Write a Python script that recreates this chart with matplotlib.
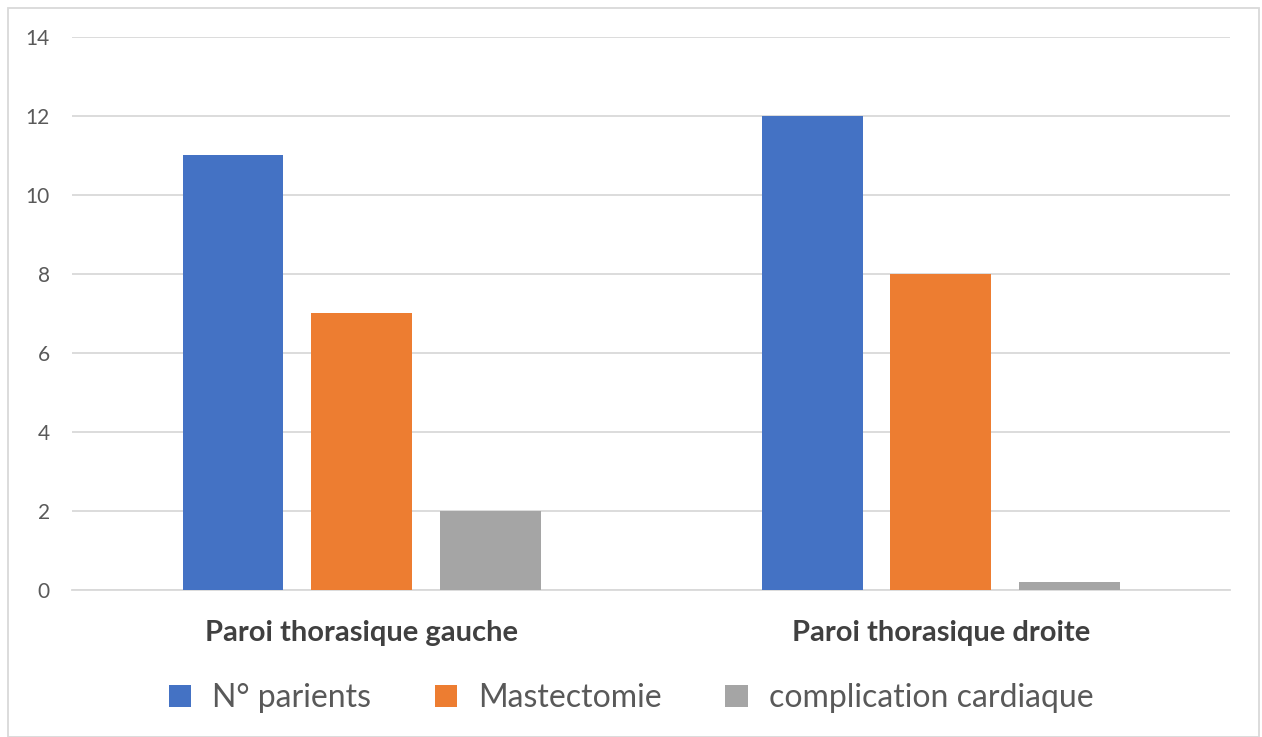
import matplotlib.pyplot as plt
import numpy as np
from matplotlib.patches import Rectangle

categories = ['Paroi thorasique gauche', 'Paroi thorasique droite']
series_names = ['N° parients', 'Mastectomie', 'complication cardiaque']
n_patients = [11, 12]
mastectomie = [7, 8]
complication = [2, 0.2]
colors = ['#4472C4', '#ED7D31', '#A5A5A5']

plt.rcParams['font.family'] = ['Lato', 'DejaVu Sans']

fig = plt.figure(figsize=(12.62, 7.37), dpi=100)
ax = fig.add_axes([0.057, 0.2, 0.918, 0.75])

x = np.arange(len(categories))
width = 0.174
step = 0.222
for i, (vals, name) in enumerate(zip([n_patients, mastectomie, complication], series_names)):
    ax.bar(x + (i - 1) * step, vals, width, color=colors[i], label=name, zorder=3)

ax.set_xlim(-0.5, 1.5)
ax.set_ylim(0, 14)
ax.set_yticks(range(0, 15, 2))
ax.grid(axis='y', color='#D9D9D9', linewidth=1.3, zorder=0)
for s in ['top', 'right', 'left']:
    ax.spines[s].set_visible(False)
ax.spines['bottom'].set_color('#D9D9D9')
ax.spines['bottom'].set_linewidth(1.3)
ax.tick_params(axis='y', length=0, labelsize=15, labelcolor='#595959', pad=16)
ax.tick_params(axis='x', length=0, labelsize=21, labelcolor='#404040', pad=22)
ax.set_xticks(x)
ax.set_xticklabels(categories, fontweight='bold')

# legend under the axes, square handles
fig.legend(loc='center', bbox_to_anchor=(0.5, 0.053), ncol=3, frameon=False,
           fontsize=23, labelcolor='#595959', handlelength=0.7, handleheight=0.7,
           columnspacing=2.0, handletextpad=0.65)

fig.patches.append(Rectangle((0.006, 0.0), 0.992, 0.989, transform=fig.transFigure,
                             fill=False, edgecolor='#D9D9D9', linewidth=1.3))

fig.savefig('out.png', dpi=100)
